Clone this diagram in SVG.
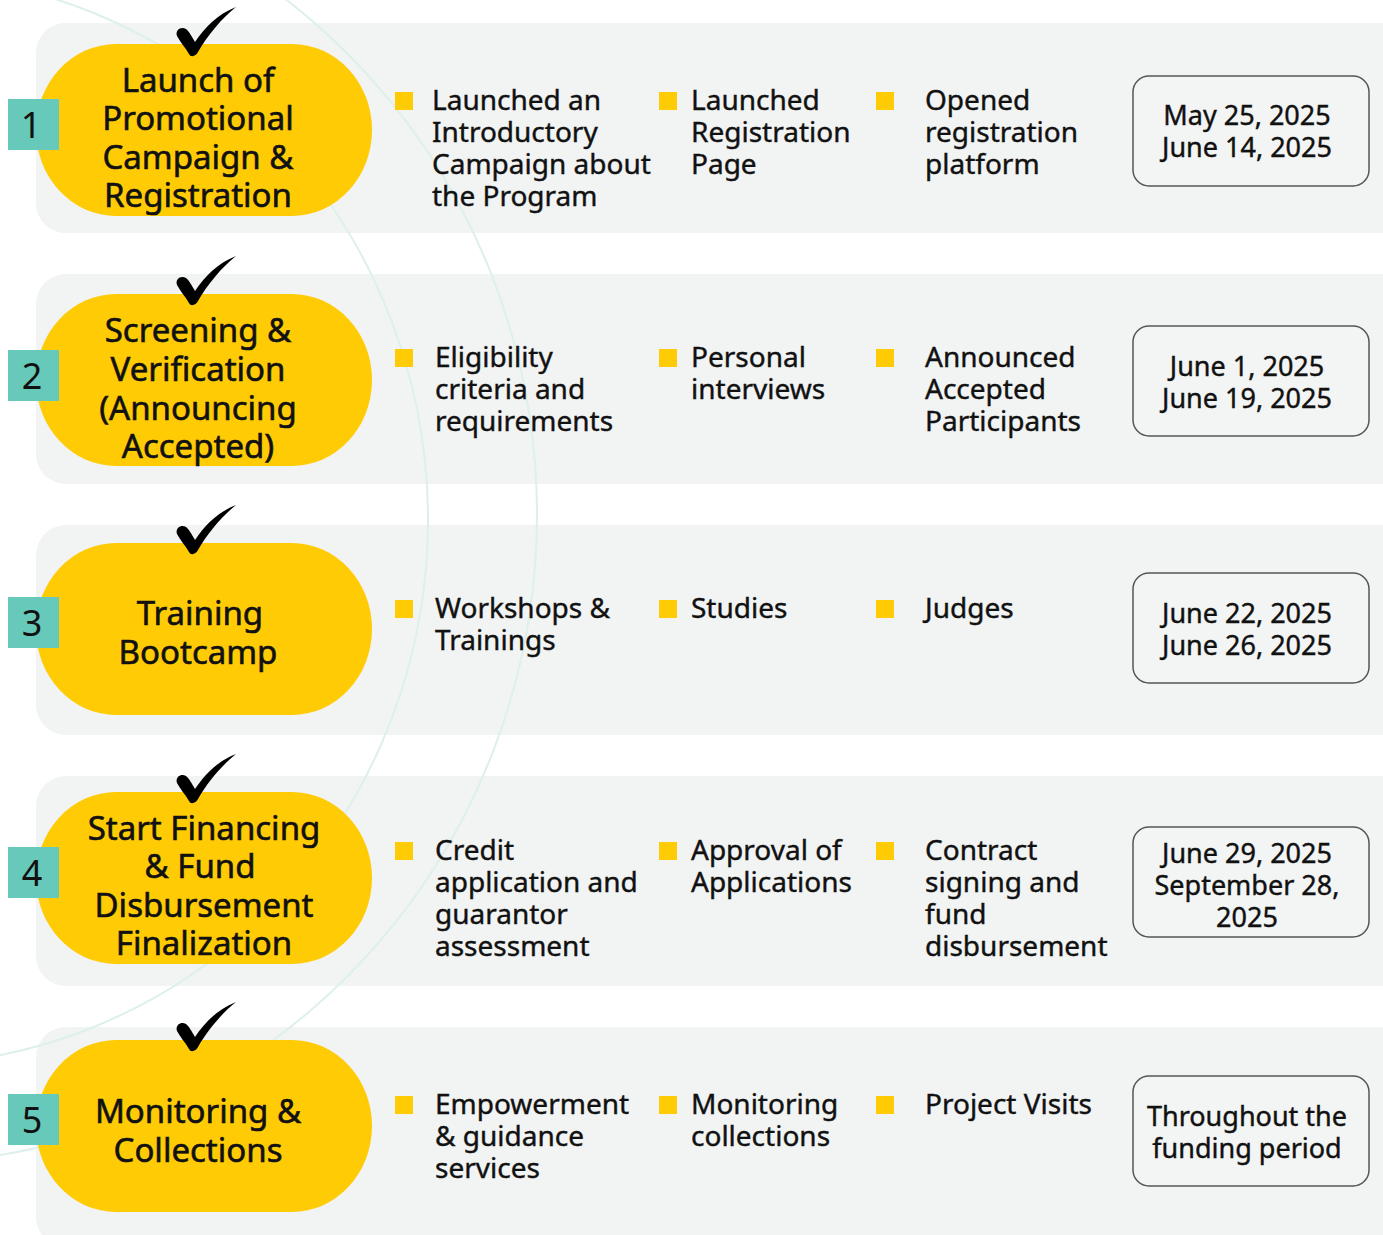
<svg xmlns="http://www.w3.org/2000/svg" xmlns:xlink="http://www.w3.org/1999/xlink" width="1383" height="1235" viewBox="0 0 1383 1235">
<style>
.band{fill:#F2F3F3}
.pill{fill:#FFCB05}
.num{fill:#66C9BA}
.numt{font-family:"Noto Sans","Liberation Sans",sans-serif;font-size:36px;fill:#111;text-anchor:middle}
.pt{font-family:"Noto Sans","Liberation Sans",sans-serif;font-size:33px;fill:#111;stroke:#111;stroke-width:0.6;text-anchor:middle}
.bt{font-family:"Noto Sans","Liberation Sans",sans-serif;font-size:28px;fill:#111;stroke:#111;stroke-width:0.4}
.bul{fill:#FFCB05}
.date{fill:#F3F4F4;stroke:#555;stroke-width:1.5}
.dt{font-family:"Noto Sans","Liberation Sans",sans-serif;font-size:27px;fill:#111;stroke:#111;stroke-width:0.4;text-anchor:middle}
.arc{fill:none;stroke:#DDF0EC;stroke-width:2}
</style>
<defs>
<path id="check" fill="#000" d="M177 36 C175 30 181 26 186 29 C189 31 192 37 195 42 C205 27 218 14 236 7 C222 18 207 36 198 52 C196 56 191 58 189 54 C185 47 180 42 177 36 Z"/>
</defs>
<rect width="1383" height="1235" fill="#fff"/>
<g id="bands">
<rect class="band" x="36" y="23" width="1380" height="210" rx="30"/>
<rect class="band" x="36" y="274" width="1380" height="210" rx="30"/>
<rect class="band" x="36" y="525" width="1380" height="210" rx="30"/>
<rect class="band" x="36" y="776" width="1380" height="210" rx="30"/>
<rect class="band" x="36" y="1027" width="1380" height="220" rx="30"/>
</g>
<g id="connectors">
<ellipse class="arc" cx="-100" cy="520" rx="528" ry="545"/>
<ellipse class="arc" cx="-100" cy="515" rx="637" ry="648"/>
</g>
<g id="step1">
<rect class="pill" x="36" y="44" width="336" height="172" rx="80" ry="86"/>
<use href="#check"/>
<rect class="num" x="8" y="99" width="51" height="51"/>
<text class="numt" x="31" y="138">1</text>
<text class="pt" x="198"><tspan x="198" y="92">Launch of</tspan><tspan x="198" y="130">Promotional</tspan><tspan x="198" y="169">Campaign &amp;</tspan><tspan x="198" y="207">Registration</tspan></text>
<rect class="bul" x="395" y="92" width="18" height="18"/>
<rect class="bul" x="659" y="92" width="18" height="18"/>
<rect class="bul" x="876" y="92" width="18" height="18"/>
<text class="bt"><tspan x="432" y="110">Launched an</tspan><tspan x="432" y="142">Introductory</tspan><tspan x="432" y="174">Campaign about</tspan><tspan x="432" y="206">the Program</tspan></text>
<text class="bt"><tspan x="691" y="110">Launched</tspan><tspan x="691" y="142">Registration</tspan><tspan x="691" y="174">Page</tspan></text>
<text class="bt"><tspan x="925" y="110">Opened</tspan><tspan x="925" y="142">registration</tspan><tspan x="925" y="174">platform</tspan></text>
<rect class="date" x="1133" y="76" width="236" height="110" rx="16"/>
<text class="dt"><tspan x="1247" y="125">May 25, 2025</tspan><tspan x="1247" y="157">June 14, 2025</tspan></text>
</g>
<g id="step2">
<rect class="pill" x="36" y="294" width="336" height="172" rx="80" ry="86"/>
<use href="#check" transform="translate(0,249)"/>
<rect class="num" x="8" y="350" width="51" height="51"/>
<text class="numt" x="32" y="389">2</text>
<text class="pt"><tspan x="198" y="342">Screening &amp;</tspan><tspan x="198" y="381">Verification</tspan><tspan x="198" y="420">(Announcing</tspan><tspan x="198" y="458">Accepted)</tspan></text>
<rect class="bul" x="395" y="349" width="18" height="18"/>
<rect class="bul" x="659" y="349" width="18" height="18"/>
<rect class="bul" x="876" y="349" width="18" height="18"/>
<text class="bt"><tspan x="435" y="367">Eligibility</tspan><tspan x="435" y="399">criteria and</tspan><tspan x="435" y="431">requirements</tspan></text>
<text class="bt"><tspan x="691" y="367">Personal</tspan><tspan x="691" y="399">interviews</tspan></text>
<text class="bt"><tspan x="925" y="367">Announced</tspan><tspan x="925" y="399">Accepted</tspan><tspan x="925" y="431">Participants</tspan></text>
<rect class="date" x="1133" y="326" width="236" height="110" rx="16"/>
<text class="dt"><tspan x="1247" y="376">June 1, 2025</tspan><tspan x="1247" y="408">June 19, 2025</tspan></text>
</g>
<g id="step3">
<rect class="pill" x="36" y="543" width="336" height="172" rx="80" ry="86"/>
<use href="#check" transform="translate(0,498)"/>
<rect class="num" x="8" y="597" width="51" height="51"/>
<text class="numt" x="32" y="636">3</text>
<text class="pt"><tspan x="200" y="625">Training</tspan><tspan x="198" y="664">Bootcamp</tspan></text>
<rect class="bul" x="395" y="600" width="18" height="18"/>
<rect class="bul" x="659" y="600" width="18" height="18"/>
<rect class="bul" x="876" y="600" width="18" height="18"/>
<text class="bt"><tspan x="435" y="618">Workshops &amp;</tspan><tspan x="435" y="650">Trainings</tspan></text>
<text class="bt"><tspan x="691" y="618">Studies</tspan></text>
<text class="bt"><tspan x="925" y="618">Judges</tspan></text>
<rect class="date" x="1133" y="573" width="236" height="110" rx="16"/>
<text class="dt"><tspan x="1247" y="623">June 22, 2025</tspan><tspan x="1247" y="655">June 26, 2025</tspan></text>
</g>
<g id="step4">
<rect class="pill" x="36" y="792" width="336" height="172" rx="80" ry="86"/>
<use href="#check" transform="translate(0,747)"/>
<rect class="num" x="8" y="847" width="51" height="51"/>
<text class="numt" x="32" y="886">4</text>
<text class="pt"><tspan x="204" y="840">Start Financing</tspan><tspan x="200" y="878">&amp; Fund</tspan><tspan x="204" y="917">Disbursement</tspan><tspan x="204" y="955">Finalization</tspan></text>
<rect class="bul" x="395" y="842" width="18" height="18"/>
<rect class="bul" x="659" y="842" width="18" height="18"/>
<rect class="bul" x="876" y="842" width="18" height="18"/>
<text class="bt"><tspan x="435" y="860">Credit</tspan><tspan x="435" y="892">application and</tspan><tspan x="435" y="924">guarantor</tspan><tspan x="435" y="956">assessment</tspan></text>
<text class="bt"><tspan x="691" y="860">Approval of</tspan><tspan x="691" y="892">Applications</tspan></text>
<text class="bt"><tspan x="925" y="860">Contract</tspan><tspan x="925" y="892">signing and</tspan><tspan x="925" y="924">fund</tspan><tspan x="925" y="956">disbursement</tspan></text>
<rect class="date" x="1133" y="827" width="236" height="110" rx="16"/>
<text class="dt"><tspan x="1247" y="863">June 29, 2025</tspan><tspan x="1247" y="895">September 28,</tspan><tspan x="1247" y="927">2025</tspan></text>
</g>
<g id="step5">
<rect class="pill" x="36" y="1040" width="336" height="172" rx="80" ry="86"/>
<use href="#check" transform="translate(0,995)"/>
<rect class="num" x="8" y="1094" width="51" height="51"/>
<text class="numt" x="32" y="1133">5</text>
<text class="pt"><tspan x="198" y="1123">Monitoring &amp;</tspan><tspan x="198" y="1162">Collections</tspan></text>
<rect class="bul" x="395" y="1096" width="18" height="18"/>
<rect class="bul" x="659" y="1096" width="18" height="18"/>
<rect class="bul" x="876" y="1096" width="18" height="18"/>
<text class="bt"><tspan x="435" y="1114">Empowerment</tspan><tspan x="435" y="1146">&amp; guidance</tspan><tspan x="435" y="1178">services</tspan></text>
<text class="bt"><tspan x="691" y="1114">Monitoring</tspan><tspan x="691" y="1146">collections</tspan></text>
<text class="bt"><tspan x="925" y="1114">Project Visits</tspan></text>
<rect class="date" x="1133" y="1076" width="236" height="110" rx="16"/>
<text class="dt"><tspan x="1247" y="1126">Throughout the</tspan><tspan x="1247" y="1158">funding period</tspan></text>
</g>
</svg>
